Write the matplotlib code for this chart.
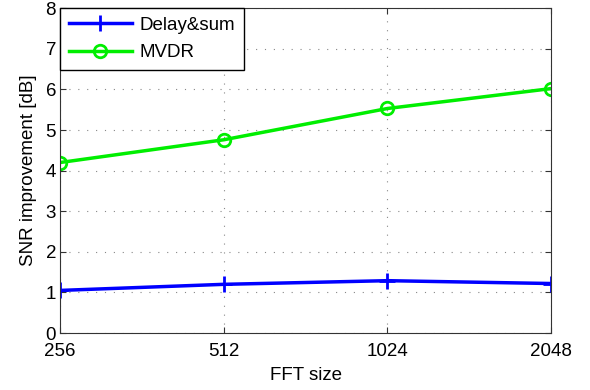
import numpy as np
import matplotlib.pyplot as plt

plt.rcParams['font.family'] = ['Liberation Sans', 'DejaVu Sans']

fft_sizes = [256, 512, 1024, 2048]
delay_sum = [1.05, 1.20, 1.29, 1.22]
mvdr = [4.20, 4.76, 5.53, 6.02]

fig = plt.figure(figsize=(5.9, 3.9), dpi=100)
ax = fig.add_axes([0.102, 0.146, 0.832, 0.833])

x = np.log2(fft_sizes)
ax.plot(x, delay_sum, color='#0000ff', lw=2.5, marker='+', ms=11, mew=2, label='Delay&sum')
ax.plot(x, mvdr, color='#00ee00', lw=2.5, marker='o', ms=9, mew=2,
        markerfacecolor='none', label='MVDR')

ax.set_xlim(x[0], x[-1])
ax.set_ylim(0, 8)
ax.set_xticks(x)
ax.set_xticklabels([str(s) for s in fft_sizes])
ax.set_yticks(range(0, 9))
ax.tick_params(direction='in', top=True, right=True, labelsize=13.5, length=4,
               color='#333333')
ax.tick_params(axis='x', pad=7)
ax.tick_params(axis='y', pad=3)
ax.grid(True, linestyle=(0, (1, 7)), color='#888888', lw=0.8)
for sp in ax.spines.values():
    sp.set_color('#333333')

ax.set_xlabel('FFT size', fontsize=13.5, labelpad=5)
ax.set_ylabel('SNR improvement [dB]', fontsize=13.5, labelpad=6)

leg = ax.legend(loc='upper left', fontsize=13.5, fancybox=False, framealpha=1,
                edgecolor='black', borderaxespad=0, handlelength=3.4,
                borderpad=0.45, labelspacing=0.55, handletextpad=0.4)
leg.get_frame().set_linewidth(1)

fig.savefig('out.png', dpi=100)
